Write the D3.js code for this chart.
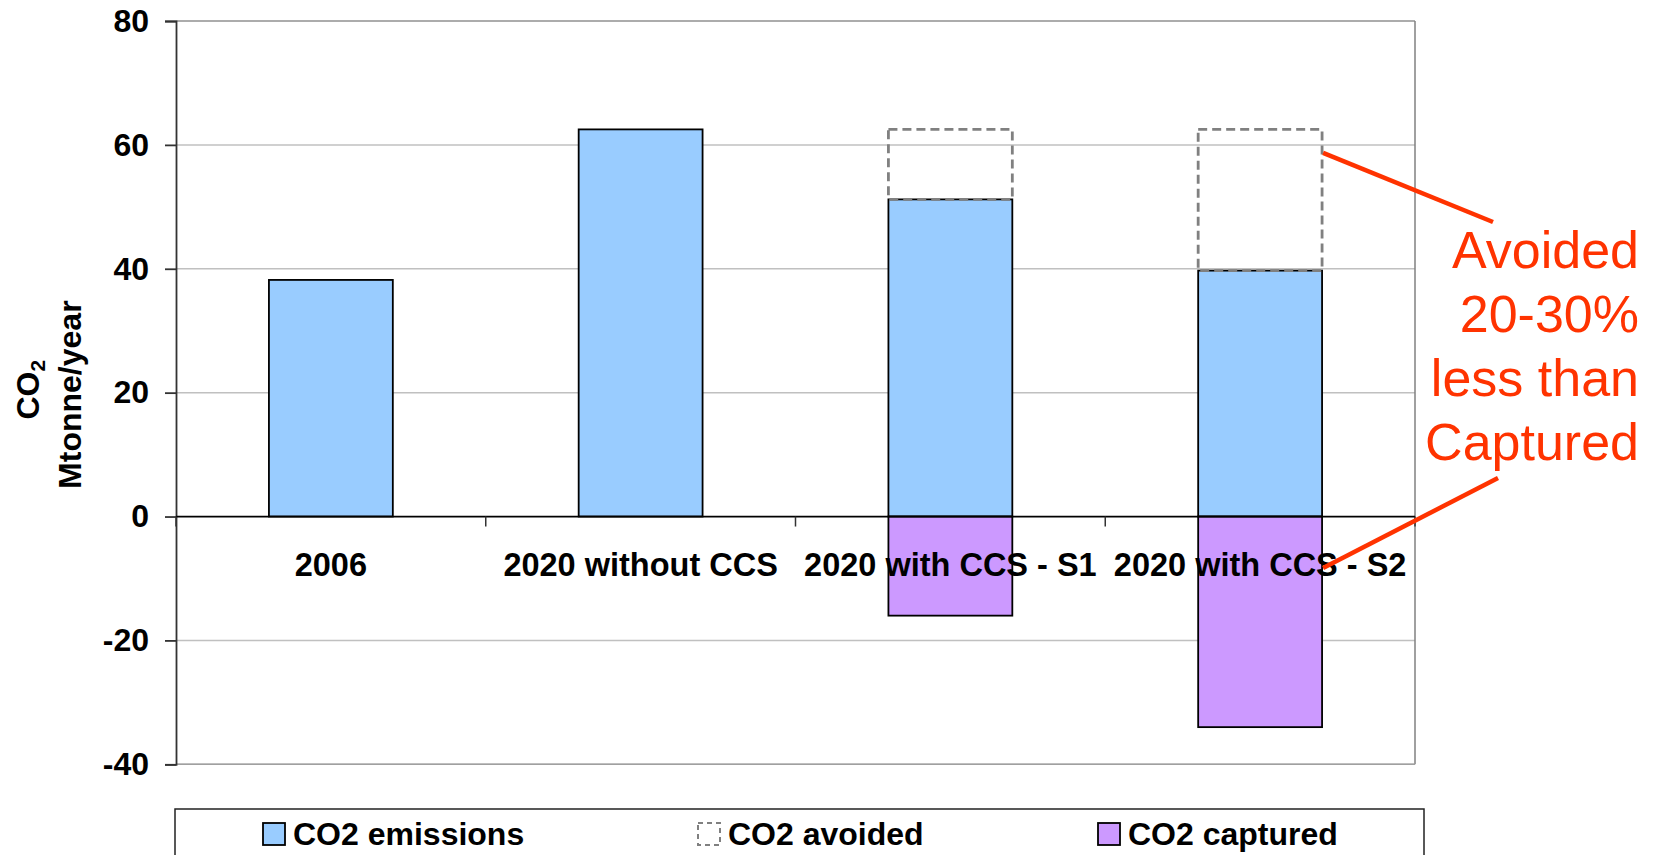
<!DOCTYPE html>
<html>
<head>
<meta charset="utf-8">
<script src="https://cdn.jsdelivr.net/npm/d3@7"></script>
<style>
  html, body { margin: 0; padding: 0; background: #fff; overflow: hidden; }
  svg { display: block; }
  text { font-family: "Liberation Sans", Arial, sans-serif; }
</style>
</head>
<body>
<svg id="chart" width="1653" height="855"></svg>
<script>
// ---- data ----
const categories = ["2006", "2020 without CCS", "2020 with CCS - S1", "2020 with CCS - S2"];
const emissions = [38.2, 62.5, 51.2, 39.7];
const avoided = [0, 0, 11.3, 22.8];
const captured = [0, 0, -16.0, -34.0];
const yTicks = [-40, -20, 0, 20, 40, 60, 80];
const legendLabels = ["CO2 emissions", "CO2 avoided", "CO2 captured"];
const annotationLines = ["Avoided", "20-30%", "less than", "Captured"];
const yTitleLines = ["CO", "2", "Mtonne/year"];

// ---- layout ----
const svg = d3.select("#chart");
const plot = { left: 176, right: 1415, top: 21, bottom: 764.3 };

const x = d3.scaleBand().domain(categories)
  .range([plot.left, plot.right]).paddingInner(0.6).paddingOuter(0.3);
const y = d3.scaleLinear().domain([-40, 80]).range([plot.bottom, plot.top]);
const bw = x.bandwidth();
const gap = (x.step() - bw) / 2;

const colors = { emissions: "#99CCFF", captured: "#CC99FF", avoided: "#808080", red: "#FF3300" };

// gridlines
svg.append("g").selectAll("line").data(yTicks.filter(t => t !== 0)).join("line")
  .attr("x1", plot.left).attr("x2", plot.right)
  .attr("y1", d => y(d)).attr("y2", d => y(d))
  .attr("stroke", "#C0C0C0").attr("stroke-width", 1.5);

// plot area top/right border
svg.append("line").attr("x1", plot.left).attr("x2", plot.right)
  .attr("y1", y(80)).attr("y2", y(80)).attr("stroke", "#A0A0A0").attr("stroke-width", 1.5);
svg.append("line").attr("x1", plot.right).attr("x2", plot.right)
  .attr("y1", y(80)).attr("y2", y(-40)).attr("stroke", "#808080").attr("stroke-width", 1.5);
svg.append("line").attr("x1", plot.left).attr("x2", plot.right)
  .attr("y1", y(-40)).attr("y2", y(-40)).attr("stroke", "#A0A0A0").attr("stroke-width", 1.5);

// bars: emissions
svg.append("g").selectAll("rect").data(categories).join("rect")
  .attr("x", d => x(d)).attr("width", bw)
  .attr("y", (d, i) => y(emissions[i]))
  .attr("height", (d, i) => y(0) - y(emissions[i]))
  .attr("fill", colors.emissions).attr("stroke", "#000").attr("stroke-width", 1.8);

// captured (negative)
svg.append("g").selectAll("rect").data(categories.filter((d, i) => captured[i] !== 0)).join("rect")
  .attr("x", d => x(d)).attr("width", bw)
  .attr("y", y(0))
  .attr("height", d => y(captured[categories.indexOf(d)]) - y(0))
  .attr("fill", colors.captured).attr("stroke", "#000").attr("stroke-width", 1.8);

// avoided (dashed, stacked on emissions)
svg.append("g").selectAll("rect").data(categories.filter((d, i) => avoided[i] !== 0)).join("rect")
  .attr("x", d => x(d)).attr("width", bw)
  .attr("y", d => { const i = categories.indexOf(d); return y(emissions[i] + avoided[i]); })
  .attr("height", d => { const i = categories.indexOf(d); return y(emissions[i]) - y(emissions[i] + avoided[i]); })
  .attr("fill", "none").attr("stroke", colors.avoided).attr("stroke-width", 2.8)
  .attr("stroke-dasharray", "9,5");

// y axis
const yAxis = d3.axisLeft(y).tickValues(yTicks).tickSize(11).tickPadding(16).tickFormat(d => String(d));
const gy = svg.append("g").attr("transform", `translate(${plot.left},0)`).call(yAxis);
gy.select(".domain").attr("stroke", "#333").attr("stroke-width", 1.8);
gy.selectAll(".tick line").attr("stroke", "#333").attr("stroke-width", 1.8);
gy.selectAll(".tick text").attr("font-size", 32).attr("font-weight", "bold")
  .attr("fill", "#000").attr("font-family", "Liberation Sans, Arial, sans-serif");

// zero axis line
svg.append("line").attr("x1", plot.left).attr("x2", plot.right)
  .attr("y1", y(0)).attr("y2", y(0)).attr("stroke", "#000").attr("stroke-width", 1.8);

// x tick marks at category boundaries
const boundaries = categories.map(c => x(c) - gap).concat([plot.right]);
svg.append("g").selectAll("line").data(boundaries).join("line")
  .attr("x1", d => d).attr("x2", d => d)
  .attr("y1", y(0)).attr("y2", y(0) + 10)
  .attr("stroke", "#333").attr("stroke-width", 1.5);

// x labels
svg.append("g").selectAll("text").data(categories).join("text")
  .attr("x", d => x(d) + bw / 2).attr("y", y(0) + 59.5)
  .attr("text-anchor", "middle").attr("font-size", 32.5).attr("font-weight", "bold")
  .attr("fill", "#000").text(d => d);

// y title
const t1 = svg.append("text").attr("transform", `translate(39, ${(plot.top + plot.bottom) / 2 - 3}) rotate(-90)`)
  .attr("text-anchor", "middle").attr("font-size", 32).attr("font-weight", "bold");
t1.append("tspan").text(yTitleLines[0]);
t1.append("tspan").attr("font-size", 21).attr("dy", 6).text(yTitleLines[1]);
svg.append("text").attr("transform", `translate(81, ${(plot.top + plot.bottom) / 2 + 2}) rotate(-90)`)
  .attr("text-anchor", "middle").attr("font-size", 32).attr("font-weight", "bold")
  .text(yTitleLines[2]);

// annotation
const s2 = categories[3];
const annX = 1639;
svg.append("g").selectAll("text").data(annotationLines).join("text")
  .attr("x", annX).attr("y", (d, i) => 268 + i * 64)
  .attr("text-anchor", "end").attr("font-size", 52).attr("fill", colors.red).text(d => d);
svg.append("line")
  .attr("x1", x(s2) + bw + 1).attr("y1", y(58.7))
  .attr("x2", 1493).attr("y2", 222)
  .attr("stroke", colors.red).attr("stroke-width", 4.5);
svg.append("line")
  .attr("x1", 1498).attr("y1", 478)
  .attr("x2", x(s2) + bw + 1).attr("y2", y(-8.3))
  .attr("stroke", colors.red).attr("stroke-width", 4.5);

// legend
svg.append("rect").attr("x", 175).attr("y", 809).attr("width", 1249).attr("height", 70)
  .attr("fill", "#fff").attr("stroke", "#222").attr("stroke-width", 1.5);
const legendX = [263, 698, 1098];
const lg = svg.append("g").selectAll("g").data(legendLabels).join("g")
  .attr("transform", (d, i) => `translate(${legendX[i]}, 823)`);
lg.append("rect").attr("width", 22).attr("height", 22)
  .attr("fill", (d, i) => i === 0 ? colors.emissions : i === 1 ? "#fff" : colors.captured)
  .attr("stroke", (d, i) => i === 1 ? colors.avoided : "#000")
  .attr("stroke-width", (d, i) => i === 1 ? 2 : 1.8)
  .attr("stroke-dasharray", (d, i) => i === 1 ? "5,4" : null);
lg.append("text").attr("x", 30).attr("y", 21.5)
  .attr("font-size", 32).attr("font-weight", "bold").attr("fill", "#000").text(d => d);
</script>
</body>
</html>
